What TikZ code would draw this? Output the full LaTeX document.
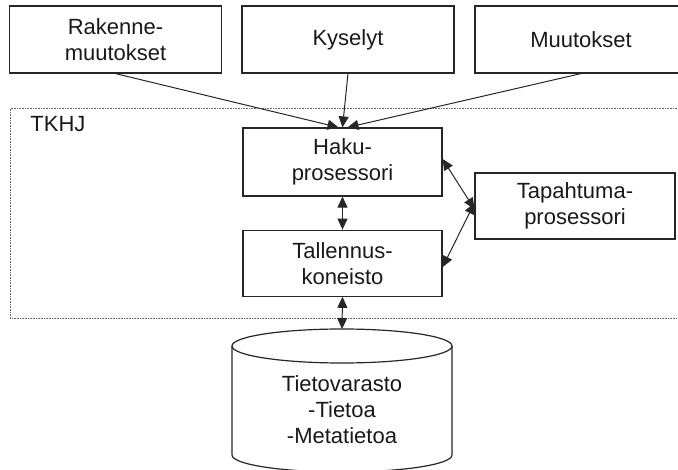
\documentclass[tikz,border=0pt]{standalone}
\usepackage{fontspec}
\setmainfont{Liberation Sans}
\usetikzlibrary{arrows.meta}
\usetikzlibrary{positioning}

\begin{document}
\begin{tikzpicture}[x = 1pt, y = -1pt, black!85, line width = 1pt,
    box/.style = {draw, line width = 1.2pt, minimum height = 67pt, inner sep = 0pt,
                  align = center, text = black!90, font = \fontsize{22}{26}\selectfont},
    frame/.style = {draw = black!60, line width = 0.8pt, dash pattern = on 1pt off 0.6pt},
    tip/.style = {-{Triangle[length = 11pt, width = 10pt]}},
    twotip/.style = {{Triangle[length = 11pt, width = 10pt]}-{Triangle[length = 11pt, width = 10pt]}}]

    \useasboundingbox (0,0) rectangle (678,470);
    \clip (0,0) rectangle (678,470);

    % input boxes
    \foreach \NAME/\X/\TEXT in {rak/115.5/{Rakenne-\\muutokset}, kys/348/{Kyselyt}, muu/581/{Muutokset}}
        {\node[box, minimum width = 212pt] (\NAME) at (\X,39.5) {\TEXT};}

    % TKHJ frame
    \node[frame, minimum width = 690pt, minimum height = 210pt, anchor = north west, inner sep = 0pt] (tkhj) at (10,108) {};
    \node[anchor = north west, inner sep = 0pt, text = black!90, font = \fontsize{22}{26}\selectfont] (tkhjlabel) at ([xshift = 20pt, yshift = -8pt]tkhj.north west) {TKHJ};

    \node[box, minimum width = 199pt, minimum height = 68pt] (haku) at (342.5,162) {Haku-\\prosessori};
    \node[box, minimum width = 199pt, minimum height = 66pt, below = 33pt of haku] (tal) {Tallennus-\\koneisto};
    \node[box, minimum width = 200pt, minimum height = 66pt] (tap) at (575,206) {Tapahtuma-\\prosessori};

    % data store
    \def\Rx{110}
    \def\Ry{17}
    \coordinate (db) at (342,329);
    \draw[line width = 1.2pt] (342,346) ellipse [x radius = \Rx, y radius = \Ry];
    \draw[line width = 1.2pt] (232,346) -- (232,455)
        arc [start angle = 180, end angle = 0, x radius = \Rx, y radius = \Ry] -- (452,346);
    \node[align = center, inner sep = 0pt, text = black!90, font = \fontsize{22}{26}\selectfont] (dbtext) at (342,410) {Tietovarasto\\-Tietoa\\-Metatietoa};

    % connectors
    \foreach \NAME/\DX in {rak/-4, kys/0, muu/5}
        {\draw[tip] (\NAME.south) -- ([xshift = \DX pt]haku.north);}

    \draw[twotip] (haku.south) -- (tal.north);
    \draw[twotip] (tal.south) -- (db);
    \draw[twotip] ([yshift = 3pt]haku.east) -- ([yshift = -3pt]tap.west);
    \draw[twotip] ([yshift = 3pt]tap.west) -- ([yshift = -4pt]tal.east);

\end{tikzpicture}
\end{document}
